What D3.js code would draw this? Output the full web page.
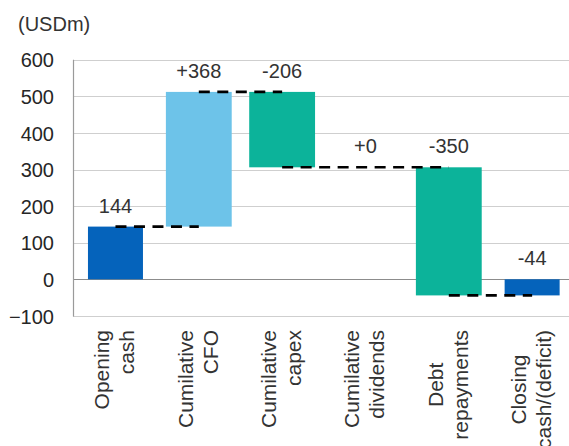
<!DOCTYPE html>
<html>
<head>
<meta charset="utf-8">
<script src="https://cdn.jsdelivr.net/npm/d3@7"></script>
<style>
  html, body { margin: 0; padding: 0; background: #fff; }
  svg { display: block; font-family: "Liberation Sans", Arial, sans-serif; }
</style>
</head>
<body>
<svg id="chart" width="569" height="446"></svg>
<script>
// ---- data ----
const categories = [
  ["Opening", "cash"],
  ["Cumilative", "CFO"],
  ["Cumilative", "capex"],
  ["Cumilative", "dividends"],
  ["Debt", "repayments"],
  ["Closing", "cash/(deficit)"]
];
const values = [144, 368, -206, 0, -350, -44];
const valueLabels = ["144", "+368", "-206", "+0", "-350", "-44"];
const barKinds = ["total", "increase", "decrease", "decrease", "decrease", "total"];
const yTicks = [-100, 0, 100, 200, 300, 400, 500, 600];
const unitLabel = "(USDm)";

(function () {
// ---- layout ----
const svg = d3.select("#chart");
const pL = 73, pR = 573.8, pT = 59.7, pB = 315.9;
const y = d3.scaleLinear().domain([-100, 600]).range([pB, pT]);
const x = d3.scaleBand().domain(d3.range(categories.length)).range([pL + 0.8, pR]).padding(0);
const colors = { total: "#0563BB", increase: "#6DC3E9", decrease: "#0CB39A" };
const textColor = "#333333";

// compute waterfall segments
let running = 0;
const segs = values.map((v, i) => {
  let start, end;
  if (barKinds[i] === "total") { start = 0; end = (i === 0) ? v : running; running = end; }
  else { start = running; end = running + v; running = end; }
  return { i, start, end, kind: barKinds[i] };
});

// gridlines
svg.append("g").selectAll("line").data(yTicks).join("line")
  .attr("x1", pL).attr("x2", 569)
  .attr("y1", d => Math.round(y(d)) + 0.5).attr("y2", d => Math.round(y(d)) + 0.5)
  .attr("stroke", d => d === 0 ? "#8c8c8c" : "#cfcfcf")
  .attr("stroke-width", 1);

// y axis via d3 axis
const yAxis = d3.axisLeft(y).tickValues(yTicks).tickSize(0).tickPadding(19).tickFormat(d3.format("d"));
const gy = svg.append("g").attr("transform", `translate(${pL},0)`).call(yAxis);
gy.select(".domain").remove();
gy.selectAll("text").attr("fill", "#262626").style("font-size", "20px")
  .style("font-family", '"Liberation Sans", Arial, sans-serif').attr("dy", "0.36em");
svg.append("line").attr("x1", pL + 0.5).attr("x2", pL + 0.5)
  .attr("y1", y(600)).attr("y2", y(-100) + 0.5).attr("stroke", "#9a9a9a").attr("stroke-width", 1.2);

// bars
const bw = x.bandwidth();
const cx = i => x(i) + bw / 2;
const wf = s => (s.kind === "total" ? 0.66 : 0.79) * bw;
svg.append("g").selectAll("rect").data(segs.filter(s => s.start !== s.end)).join("rect")
  .attr("x", s => cx(s.i) - wf(s) / 2)
  .attr("width", s => wf(s))
  .attr("y", s => y(Math.max(s.start, s.end)))
  .attr("height", s => Math.abs(y(s.start) - y(s.end)))
  .attr("fill", s => colors[s.kind]);

// connectors
const conn = [];
for (let k = 0; k < segs.length - 1; k++) {
  if (k > 0 && segs[k].start === segs[k].end) continue;
  let j = k + 1;
  while (j < segs.length - 1 && segs[j].start === segs[j].end) j++;
  conn.push({ x1: cx(k), x2: cx(j), v: segs[k].end });
}
svg.append("g").selectAll("line").data(conn).join("line")
  .attr("x1", d => d.x1).attr("x2", d => d.x2)
  .attr("y1", d => y(d.v)).attr("y2", d => y(d.v))
  .attr("stroke", "#000").attr("stroke-width", 2.6).attr("stroke-dasharray", "11,7.5");

// value labels
svg.append("g").selectAll("text").data(segs).join("text")
  .attr("x", s => cx(s.i))
  .attr("y", s => y(Math.max(s.start, s.end)) - 14)
  .attr("text-anchor", "middle")
  .attr("fill", textColor)
  .style("font-size", "20px")
  .text(s => valueLabels[s.i]);

// category labels (rotated)
const catG = svg.append("g").selectAll("g").data(categories).join("g")
  .attr("transform", (d, i) => `translate(${cx(i)},330) rotate(-90)`);
catG.each(function (lines, i) {
  const g = d3.select(this);
  lines.forEach((t, li) => {
    g.append("text")
      .attr("x", 0)
      .attr("y", li === 0 ? -6 : 19)
      .attr("text-anchor", "end")
      .attr("fill", textColor)
      .style("font-size", "21px")
      .text(t);
  });
  if (i >= 4) {
    const texts = g.selectAll("text").nodes();
    const widths = texts.map(n => n.getComputedTextLength());
    const maxW = d3.max(widths);
    texts.forEach((n, k) => d3.select(n).attr("x", -(maxW - widths[k]) / 2));
  }
});

// unit label
svg.append("text").attr("x", 18).attr("y", 31).attr("fill", textColor)
  .style("font-size", "20px").text(unitLabel);
})();
</script>
</body>
</html>
